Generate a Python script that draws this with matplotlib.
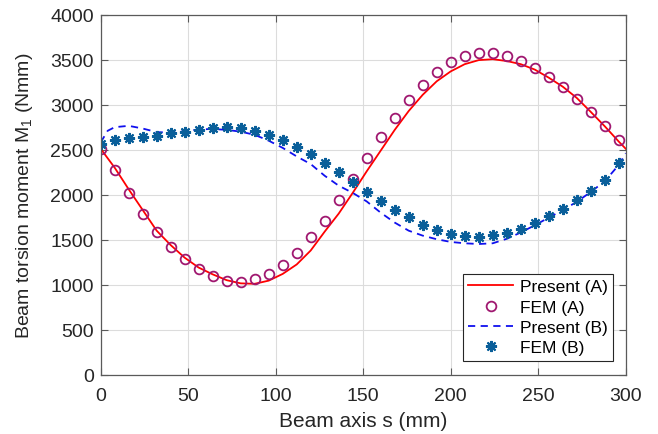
import matplotlib
matplotlib.use('Agg')
from matplotlib import pyplot as plt
import numpy as np

plt.rcParams['font.family'] = ['Liberation Sans', 'DejaVu Sans']
plt.rcParams['mathtext.default'] = 'regular'

# beam axis positions (mm)
s_line = [0, 8, 16, 24, 32, 40, 48, 56, 64, 72, 80, 88, 96, 104, 112, 120, 128, 136,
          144, 152, 160, 168, 176, 184, 192, 200, 208, 216, 224, 232, 240, 248, 256,
          264, 272, 280, 288, 296, 300]
present_a = [2510, 2300, 2060, 1830, 1600, 1440, 1300, 1190, 1115, 1050, 1015, 1010,
             1045, 1120, 1225, 1380, 1590, 1790, 2020, 2260, 2490, 2720, 2930, 3110,
             3260, 3370, 3450, 3495, 3505, 3485, 3450, 3390, 3300, 3200, 3075, 2920,
             2760, 2590, 2510]
s_line_b = [0, 4, 8, 16, 24, 32, 40, 48, 56, 64, 72, 80, 88, 96, 104, 112, 120, 128,
            136, 144, 152, 160, 168, 176, 184, 192, 200, 208, 216, 224, 232, 240, 248,
            256, 264, 272, 280, 288, 296, 300]
present_b = [2580, 2710, 2750, 2765, 2735, 2695, 2690, 2705, 2725, 2730, 2720, 2700,
             2665, 2600, 2520, 2425, 2340, 2210, 2100, 2020, 1925, 1800, 1690, 1600,
             1545, 1505, 1475, 1460, 1452, 1460, 1510, 1580, 1660, 1745, 1830, 1920,
             2030, 2150, 2330, 2460]

s_fem = [0, 8, 16, 24, 32, 40, 48, 56, 64, 72, 80, 88, 96, 104, 112, 120, 128, 136,
         144, 152, 160, 168, 176, 184, 192, 200, 208, 216, 224, 232, 240, 248, 256,
         264, 272, 280, 288, 296]
fem_a = [2508, 2274, 2015, 1786, 1589, 1422, 1282, 1174, 1093, 1045, 1033, 1060, 1119,
         1222, 1356, 1527, 1711, 1941, 2174, 2408, 2641, 2856, 3052, 3222, 3363, 3471,
         3537, 3574, 3574, 3541, 3489, 3408, 3308, 3193, 3067, 2919, 2767, 2604]
fem_b = [2563, 2611, 2627, 2638, 2656, 2682, 2700, 2722, 2737, 2748, 2737, 2708, 2663,
         2608, 2533, 2452, 2349, 2249, 2137, 2034, 1933, 1833, 1749, 1667, 1608, 1563,
         1538, 1533, 1552, 1574, 1619, 1686, 1760, 1841, 1941, 2044, 2167, 2349]

fig = plt.figure(figsize=(6.58, 4.35), dpi=100)
ax = fig.add_axes([0.153, 0.1363, 0.798, 0.8277])

ax.plot(s_line, present_a, '-', color='#ff0000', lw=1.3, label='Present (A)')
ax.plot(s_fem, fem_a, 'o', mfc='none', mec='#a01870', mew=1.3, ms=7, ls='none',
        label='FEM (A)')
ax.plot(s_line_b, present_b, '--', color='#1010ee', lw=1.3, dashes=(4, 3),
        label='Present (B)')
ax.plot(s_fem, fem_b, ls='none', marker=(8, 2, 0), ms=8, mew=1.5, mec='#0a5f9a',
        mfc='#0a5f9a', label='FEM (B)')

ax.set_xlim(0, 300)
ax.set_ylim(0, 4000)
ax.set_xticks(np.arange(0, 301, 50))
ax.set_yticks(np.arange(0, 4001, 500))
ax.grid(True, color='#dcdcdc', lw=0.8)
ax.set_axisbelow(True)
ax.tick_params(direction='in', top=True, right=True, length=5, width=0.8,
               labelsize=14, colors='#5a5a5a', labelcolor='#262626')
ax.tick_params(axis='x', pad=9)
ax.tick_params(axis='y', pad=5)
for sp in ax.spines.values():
    sp.set_color('#5a5a5a')
    sp.set_linewidth(0.9)

ax.set_xlabel('Beam axis s (mm)', fontsize=15, color='#262626', labelpad=5)
ax.set_ylabel('Beam torsion moment M$_1$ (Nmm)', fontsize=14, color='#262626',
              labelpad=11)

leg = ax.legend(loc='lower right', bbox_to_anchor=(0.976, 0.039), borderaxespad=0,
                fontsize=12.5, fancybox=False, framealpha=1, edgecolor='#262626',
                handlelength=2.6, handletextpad=0.4, borderpad=0.3, labelspacing=0.3)
leg.get_frame().set_linewidth(0.8)

fig.savefig('out.png', dpi=100)
